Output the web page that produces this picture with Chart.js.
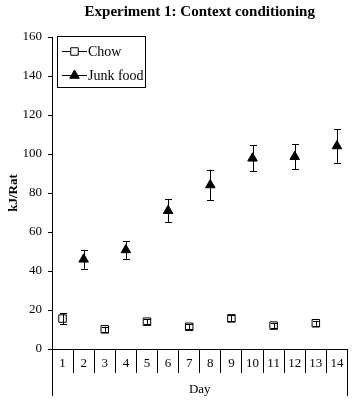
<!DOCTYPE html>
<html>
<head>
<meta charset="utf-8">
<script src="https://cdn.jsdelivr.net/npm/chart.js@4/dist/chart.umd.min.js"></script>
<style>
html,body{margin:0;padding:0;background:#fff;}
#wrap{width:354px;height:400px;}
</style>
</head>
<body>
<div id="wrap"><canvas id="c" width="354" height="400"></canvas></div>
<script>
const dayLabels = ['1','2','3','4','5','6','7','8','9','10','11','12','13','14'];
const yTicks = [0,20,40,60,80,100,120,140,160];
const chowDays = ['1','3','5','7','9','11','13'];
const chowMean = [15.6, 10.1, 14.0, 11.4, 15.7, 12.0, 13.2];
const chowErr  = [2.8, 1.3, 1.3, 1.3, 1.5, 1.3, 1.3];
const junkDays = ['2','4','6','8','10','12','14'];
const junkMean = [46.0, 50.8, 70.9, 84.1, 97.8, 98.6, 104.1];
const junkErr  = [4.8, 4.6, 6.0, 7.9, 6.7, 6.3, 8.6];

const serif = '"Liberation Serif", "Times New Roman", serif';

const errorBars = {
  id: 'errorBars',
  afterDatasetsDraw(chart) {
    const ctx = chart.ctx, x = chart.scales.x, y = chart.scales.y;
    ctx.save();
    ctx.strokeStyle = '#000';
    ctx.lineWidth = 1;
    chart.data.datasets.forEach(ds => {
      ds.data.forEach((p, i) => {
        const e = ds.errors[i];
        const px = Math.round(x.getPixelForValue(x.getLabels().indexOf(p.x))) + 0.5;
        const top = y.getPixelForValue(p.y + e), bot = y.getPixelForValue(p.y - e);
        const cw = 3.5;
        ctx.beginPath();
        ctx.moveTo(px, top); ctx.lineTo(px, bot);
        ctx.moveTo(px - cw, Math.round(top) + 0.5); ctx.lineTo(px + cw, Math.round(top) + 0.5);
        ctx.moveTo(px - cw, Math.round(bot) + 0.5); ctx.lineTo(px + cw, Math.round(bot) + 0.5);
        ctx.stroke();
      });
    });
    ctx.restore();
  }
};

const extras = {
  id: 'extras',
  afterDraw(chart) {
    const ctx = chart.ctx, a = chart.chartArea;
    ctx.save();
    ctx.strokeStyle = '#000';
    ctx.lineWidth = 1;
    // outer lines of the category box
    ctx.beginPath();
    ctx.moveTo(Math.round(a.left) + 0.5, a.bottom); ctx.lineTo(Math.round(a.left) + 0.5, 396);
    ctx.moveTo(Math.round(a.right) - 0.5, a.bottom); ctx.lineTo(Math.round(a.right) - 0.5, 396);
    ctx.stroke();
    // legend box
    const bx = 57.5, by = 36.5, bw = 88, bh = 51;
    ctx.fillStyle = '#fff';
    ctx.fillRect(bx, by, bw, bh);
    ctx.strokeRect(bx, by, bw, bh);
    const rows = [51, 75];
    ctx.font = '14px ' + serif;
    ctx.textBaseline = 'middle';
    ctx.textAlign = 'left';
    chart.data.datasets.forEach((ds, i) => {
      const ry = rows[i] + 0.5;
      ctx.beginPath();
      ctx.moveTo(62, ry); ctx.lineTo(87, ry);
      ctx.stroke();
      Chart.helpers.drawPoint(ctx, {
        pointStyle: ds.pointStyle, radius: ds.pointRadius, borderWidth: 1
      }, 74.5, ry);
      ctx.fillStyle = '#000';
      ctx.fillText(ds.label, 88, rows[i] + 1);
    });
    ctx.restore();
  }
};

new Chart(document.getElementById('c'), {
  type: 'line',
  data: {
    labels: dayLabels,
    datasets: [
      {
        label: 'Chow',
        data: chowDays.map((d, i) => ({x: d, y: chowMean[i]})),
        errors: chowErr,
        showLine: false,
        pointStyle: 'rect',
        pointRadius: 5.3,
        pointBorderWidth: 1,
        pointBorderColor: '#000',
        pointBackgroundColor: 'rgba(255,255,255,0)',
        borderColor: '#000'
      },
      {
        label: 'Junk food',
        data: junkDays.map((d, i) => ({x: d, y: junkMean[i]})),
        errors: junkErr,
        showLine: false,
        pointStyle: 'triangle',
        pointRadius: 5.5,
        pointBorderWidth: 1,
        pointBorderColor: '#000',
        pointBackgroundColor: '#000',
        borderColor: '#000'
      }
    ]
  },
  options: {
    responsive: false,
    animation: false,
    events: [],
    layout: { padding: { left: 0, right: 4, top: 0, bottom: 0 } },
    plugins: {
      legend: { display: false },
      tooltip: { enabled: false },
      title: {
        display: true,
        text: 'Experiment 1: Context conditioning',
        fullSize: false,
        color: '#000',
        font: { family: serif, size: 15, weight: 'bold' },
        padding: { top: 3, bottom: 16 }
      }
    },
    scales: {
      x: {
        type: 'category',
        offset: true,
        grid: { offset: true, drawOnChartArea: false, drawTicks: true, tickLength: 24, color: '#000', lineWidth: 1 },
        border: { color: '#000', width: 1 },
        ticks: { color: '#000', font: { family: serif, size: 13 }, padding: -17, maxRotation: 0, autoSkip: false },
        title: { display: true, text: 'Day', color: '#000', font: { family: serif, size: 13 }, padding: { top: 0, bottom: 3 } },
        afterFit: s => { s.height = 51; }
      },
      y: {
        min: 0, max: 160,
        afterBuildTicks: s => { s.ticks = yTicks.map(v => ({value: v})); },
        grid: { drawOnChartArea: false, drawTicks: true, tickLength: 4, color: '#000' },
        border: { color: '#000', width: 1 },
        ticks: { color: '#000', font: { family: serif, size: 13 }, padding: 6 },
        title: { display: true, text: 'kJ/Rat', color: '#000', font: { family: serif, size: 13, weight: 'bold' }, padding: { top: 6, bottom: 0 } },
        afterFit: s => { s.width = 52; }
      }
    }
  },
  plugins: [errorBars, extras]
});
</script>
</body>
</html>
